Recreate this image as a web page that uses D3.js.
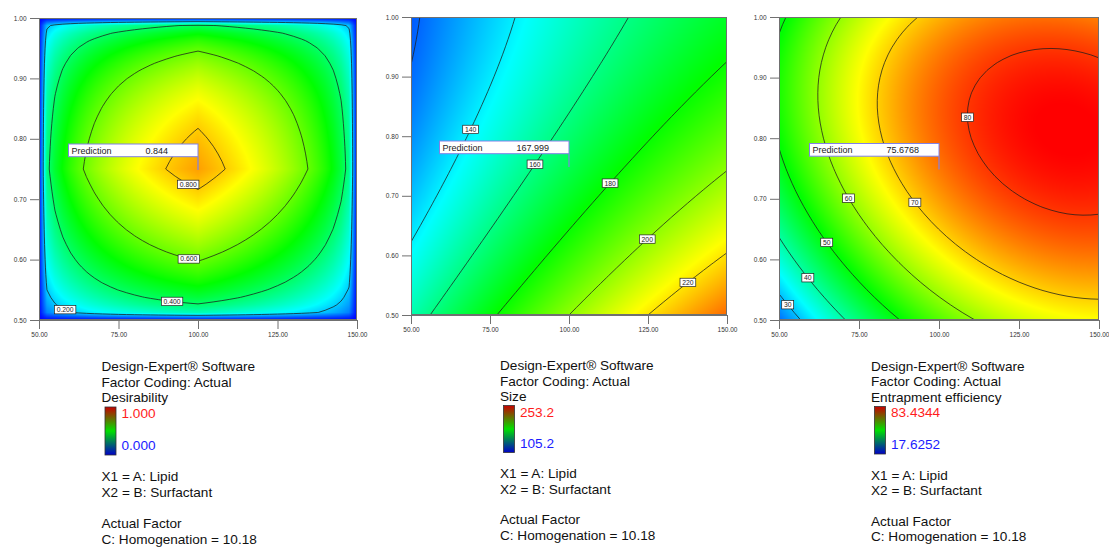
<!DOCTYPE html>
<html>
<head>
<meta charset="utf-8">
<script src="https://cdn.jsdelivr.net/npm/d3@7"></script>
<style>
  html, body { margin: 0; padding: 0; background: #fff; }
  svg { display: block; font-family: "Liberation Sans", Arial, sans-serif; }
</style>
</head>
<body>
<svg id="chart" width="1109" height="547"></svg>
<script>
// ---- Factor space (actual units) ----
const lipidRange = [50, 150];            // A: Lipid
const surfactantRange = [0.5, 1.0];      // B: Surfactant
const lipidTicks = [50, 75, 100, 125, 150];
const surfactantTicks = [0.5, 0.6, 0.7, 0.8, 0.9, 1.0];
const homogenation = 10.18;              // C held at this value

// ---- Fitted models in coded units; terms: 1, A, B, AB, A², B², B³ ----
const sizeCoef = [168, 35, -25, -7, -4, 7, 0];
const eeCoef = [75.68, 17.17, 9.58, -3.9, -10.1, -11.83, -1.5];

// ---- Response ranges (legend limits) ----
const desirabilityRange = [0, 1];
const sizeRange = [105.2, 253.2];
const eeRange = [17.6252, 83.4344];

// ---- Contour levels ----
const desLevels = [0.2, 0.4, 0.6, 0.8];
const sizeLevels = [120, 140, 160, 180, 200, 220];
const eeLevels = [30, 40, 50, 60, 70, 80];
const sizeLabelled = [140, 160, 180, 200, 220];

// ---- Flagged prediction at the design centre ----
const predictionPoint = [100, 0.75];
const predictions = [0.844, 167.999, 75.6768];

// Rainbow fill used by the contour plots (low -> high)
const fillStops = ["#0000ff", "#00ffff", "#00ff00", "#ffff00", "#ff0000"];

// ------------------------------------------------------------------
const svg = d3.select("#chart");
const GRID = 40; // grid intervals per factor

const codeA = a => (a - (lipidRange[0] + lipidRange[1]) / 2) / ((lipidRange[1] - lipidRange[0]) / 2);
const codeB = b => (b - (surfactantRange[0] + surfactantRange[1]) / 2) / ((surfactantRange[1] - surfactantRange[0]) / 2);

function evalModel(coef, a, b) {
  const x = codeA(a), y = codeB(b);
  const t = [1, x, y, x * y, x * x, y * y, y * y * y];
  return d3.sum(coef, (c, i) => c * t[i]);
}
const clamp01 = v => Math.max(0, Math.min(1, v));
function desirability(a, b) {
  const dA = 1 - Math.abs(codeA(a));            // lipid: target centre
  const dB = 1 - Math.abs(codeB(b));            // surfactant: target centre
  const dS = clamp01((sizeRange[1] - evalModel(sizeCoef, a, b)) / (sizeRange[1] - sizeRange[0])); // minimise
  const dE = clamp01((evalModel(eeCoef, a, b) - eeRange[0]) / (eeRange[1] - eeRange[0]));          // maximise
  return Math.pow(Math.max(0, dA * dB * dS * dE), 1 / 4);
}

const panels = [
  {
    fn: desirability, range: desirabilityRange, levels: desLevels, labelled: desLevels,
    fmt: d3.format(".3f"), prediction: predictions[0], predFmt: d3.format(".3f"),
    frame: { left: 39, right: 357, top: 18, bottom: 320 },
    anchors: { 0.2: [58.7, 0.523], 0.4: [92, 0.5376], 0.6: [97.4, 0.6065], 0.8: [97.4, 0.729] },
    name: "Desirability", hi: "1.000", lo: "0.000",
    lg: { x: 101.5, bar: 105, head: [371, 386.5, 402], barTop: 407, barH: 48, labY: [418, 450], foot: [481, 497, 528, 543.5] }
  },
  {
    fn: (a, b) => evalModel(sizeCoef, a, b), range: sizeRange, levels: sizeLevels, labelled: sizeLabelled,
    fmt: d3.format("d"), prediction: predictions[1], predFmt: d3.format(".3f"),
    frame: { left: 411, right: 727, top: 17, bottom: 315 },
    anchors: { 140: [68.2, 0.813], 160: [88.8, 0.7545], 180: [112.5, 0.7237], 200: [123.6, 0.634], 220: [136.3, 0.5636] },
    name: "Size", hi: "253.2", lo: "105.2",
    lg: { x: 500, bar: 503.5, head: [370, 385.5, 401], barTop: 405.5, barH: 47, labY: [417, 447.5], foot: [478, 493.5, 524, 539.5] }
  },
  {
    fn: (a, b) => evalModel(eeCoef, a, b), range: eeRange, levels: eeLevels, labelled: eeLevels,
    fmt: d3.format("d"), prediction: predictions[2], predFmt: d3.format(".4f"),
    frame: { left: 779, right: 1099, top: 17, bottom: 320 },
    anchors: { 30: [52.9, 0.526], 40: [59.2, 0.5705], 50: [64.9, 0.628], 60: [71.9, 0.7015], 70: [92.7, 0.695], 80: [110.2, 0.835] },
    name: "Entrapment efficiency", hi: "83.4344", lo: "17.6252",
    lg: { x: 871, bar: 874.5, head: [370.5, 386, 401.5], barTop: 406.5, barH: 47.5, labY: [417, 448.5], foot: [479.5, 495, 525.5, 541] }
  }
];

const defs = svg.append("defs");
const barGrad = defs.append("linearGradient").attr("id", "legendBar")
  .attr("x1", 0).attr("y1", 0).attr("x2", 0).attr("y2", 1);
barGrad.append("stop").attr("offset", "0%").attr("stop-color", "#c80000");
barGrad.append("stop").attr("offset", "50%").attr("stop-color", "#00e000");
barGrad.append("stop").attr("offset", "100%").attr("stop-color", "#0000c8");

panels.forEach((p, pi) => {
  const f = p.frame;
  const x = d3.scaleLinear().domain(lipidRange).range([f.left, f.right]);
  const y = d3.scaleLinear().domain(surfactantRange).range([f.bottom, f.top]);
  const g = svg.append("g");

  // sample the response on a regular grid
  const n = GRID + 1;
  const hA = (lipidRange[1] - lipidRange[0]) / GRID;
  const hB = (surfactantRange[1] - surfactantRange[0]) / GRID;
  const values = new Float64Array(n * n);
  for (let j = 0; j < n; j++)
    for (let i = 0; i < n; i++)
      values[j * n + i] = p.fn(lipidRange[0] + i * hA, surfactantRange[0] + j * hB);

  // colour fill, shaded between grid nodes
  const color = d3.scaleLinear()
    .domain(d3.range(fillStops.length).map(k => p.range[0] + k * (p.range[1] - p.range[0]) / (fillStops.length - 1)))
    .range(fillStops).clamp(true);
  const w = f.right - f.left, h = f.bottom - f.top;
  const canvas = document.createElement("canvas");
  canvas.width = w; canvas.height = h;
  const ctx = canvas.getContext("2d");
  const img = ctx.createImageData(w, h);
  for (let py = 0; py < h; py++) {
    const b = y.invert(f.top + py + 0.5);
    let fj = (b - surfactantRange[0]) / hB; fj = Math.max(0, Math.min(GRID, fj));
    const j0 = Math.min(GRID - 1, Math.floor(fj)), tj = fj - j0;
    for (let px = 0; px < w; px++) {
      const a = x.invert(f.left + px + 0.5);
      let fi = (a - lipidRange[0]) / hA; fi = Math.max(0, Math.min(GRID, fi));
      const i0 = Math.min(GRID - 1, Math.floor(fi)), ti = fi - i0;
      const v00 = values[j0 * n + i0], v10 = values[j0 * n + i0 + 1];
      const v01 = values[(j0 + 1) * n + i0], v11 = values[(j0 + 1) * n + i0 + 1];
      const v = (v00 * (1 - ti) + v10 * ti) * (1 - tj) + (v01 * (1 - ti) + v11 * ti) * tj;
      const c = d3.rgb(color(v));
      const k = (py * w + px) * 4;
      img.data[k] = c.r; img.data[k + 1] = c.g; img.data[k + 2] = c.b; img.data[k + 3] = 255;
    }
  }
  ctx.putImageData(img, 0, 0);
  g.append("image").attr("x", f.left).attr("y", f.top).attr("width", w).attr("height", h)
    .attr("preserveAspectRatio", "none").attr("href", canvas.toDataURL());

  // contour lines
  const clipId = "clip" + pi;
  defs.append("clipPath").attr("id", clipId).append("rect")
    .attr("x", f.left).attr("y", f.top).attr("width", w).attr("height", h);
  const proj = c => [x(lipidRange[0] + (c[0] - 0.5) * hA), y(surfactantRange[0] + (c[1] - 0.5) * hB)];
  const path = d3.geoPath(d3.geoTransform({
    point: function (cx, cy) { const q = proj([cx, cy]); this.stream.point(q[0], q[1]); }
  }));
  const contours = d3.contours().size([n, n]).thresholds(p.levels)(Array.from(values));
  g.append("g").attr("clip-path", `url(#${clipId})`)
    .selectAll("path").data(contours).join("path")
    .attr("d", path).attr("fill", "none").attr("stroke", "#1c1c1c").attr("stroke-width", 0.75);

  // frame and axes
  g.append("rect").attr("x", f.left + 0.5).attr("y", f.top + 0.5).attr("width", w - 1).attr("height", h - 1)
    .attr("fill", "none").attr("stroke", "#707070").attr("stroke-width", 1);
  const axY = g.append("g").attr("transform", `translate(${f.left},0)`)
    .call(d3.axisLeft(y).tickValues(surfactantTicks).tickFormat(d3.format(".2f")).tickSize(9).tickSizeOuter(0).tickPadding(3.5));
  const axX = g.append("g").attr("transform", `translate(0,${f.bottom})`)
    .call(d3.axisBottom(x).tickValues(lipidTicks).tickFormat(d3.format(".2f")).tickSize(9).tickSizeOuter(0).tickPadding(3.5));
  [axX, axY].forEach(ax => {
    ax.select(".domain").attr("stroke", "#707070");
    ax.selectAll(".tick line").attr("stroke", "#707070");
    ax.selectAll(".tick text").attr("fill", "#333").style("font-size", "6.5px")
      .style("font-family", '"Liberation Sans", Arial, sans-serif');
  });

  // contour labels, placed on their line nearest the anchor
  const labG = g.append("g");
  contours.filter(c => p.labelled.includes(c.value)).forEach(c => {
    const an = p.anchors[c.value];
    if (!an) return;
    const target = [x(an[0]), y(an[1])];
    let best = null, bestD = Infinity;
    c.coordinates.forEach(poly => poly.forEach(ring => {
      const pts = ring.map(proj);
      for (let k = 0; k < pts.length - 1; k++) {
        const [ax, ay] = pts[k], [bx, by] = pts[k + 1];
        const dx = bx - ax, dy = by - ay, L = dx * dx + dy * dy;
        let t = L ? ((target[0] - ax) * dx + (target[1] - ay) * dy) / L : 0;
        t = Math.max(0, Math.min(1, t));
        const qx = ax + t * dx, qy = ay + t * dy;
        if (qx < f.left + 2 || qx > f.right - 2 || qy < f.top + 2 || qy > f.bottom - 2) continue;
        const d = (qx - target[0]) ** 2 + (qy - target[1]) ** 2;
        if (d < bestD) { bestD = d; best = [qx, qy]; }
      }
    }));
    if (!best) return;
    const lg = labG.append("g").attr("transform", `translate(${best[0]},${best[1]})`);
    const rect = lg.append("rect");
    const txt = lg.append("text").attr("text-anchor", "middle").attr("dy", "0.36em")
      .style("font-size", "6.8px").attr("fill", "#222").text(p.fmt(c.value));
    const tw = txt.node().getComputedTextLength();
    rect.attr("x", -tw / 2 - 2.2).attr("y", -4.2).attr("width", tw + 4.4).attr("height", 8.4)
      .attr("fill", "#fff").attr("stroke", "#222").attr("stroke-width", 0.7);
  });

  // prediction flag
  const ppx = x(predictionPoint[0]), ppy = y(predictionPoint[1]);
  const boxW = 129.5, boxH = 12.7, boxB = ppy - 12.3;
  const flag = g.append("g");
  flag.append("line").attr("x1", ppx).attr("x2", ppx).attr("y1", boxB).attr("y2", ppy + 1)
    .attr("stroke", "#8080e8").attr("stroke-width", 1.2);
  flag.append("rect").attr("x", ppx - boxW).attr("y", boxB - boxH).attr("width", boxW).attr("height", boxH)
    .attr("fill", "#fff").attr("stroke", "#8080e8").attr("stroke-width", 1);
  flag.append("text").attr("x", ppx - boxW + 3).attr("y", boxB - 3.2)
    .style("font-size", "9px").attr("fill", "#222").text("Prediction");
  flag.append("text").attr("x", ppx - boxW + 77).attr("y", boxB - 3.2)
    .style("font-size", "9px").attr("fill", "#222").text(p.predFmt(p.prediction));

  // legend block
  const L = p.lg;
  const lt = (yy, s, fill) => g.append("text").attr("x", L.x).attr("y", yy)
    .style("font-size", "13.6px").attr("fill", fill || "#111").text(s);
  lt(L.head[0], "Design-Expert® Software");
  lt(L.head[1], "Factor Coding: Actual");
  lt(L.head[2], p.name);
  g.append("rect").attr("x", L.bar).attr("y", L.barTop).attr("width", 11).attr("height", L.barH)
    .attr("fill", "url(#legendBar)").attr("stroke", "#333").attr("stroke-width", 0.8);
  g.append("text").attr("x", L.bar + 16.5).attr("y", L.labY[0]).style("font-size", "13.6px")
    .attr("fill", "#ff1c1c").text(p.hi);
  g.append("text").attr("x", L.bar + 16.5).attr("y", L.labY[1]).style("font-size", "13.6px")
    .attr("fill", "#1c1cff").text(p.lo);
  lt(L.foot[0], "X1 = A: Lipid");
  lt(L.foot[1], "X2 = B: Surfactant");
  lt(L.foot[2], "Actual Factor");
  lt(L.foot[3], "C: Homogenation = " + homogenation.toFixed(2));
});
</script>
</body>
</html>
